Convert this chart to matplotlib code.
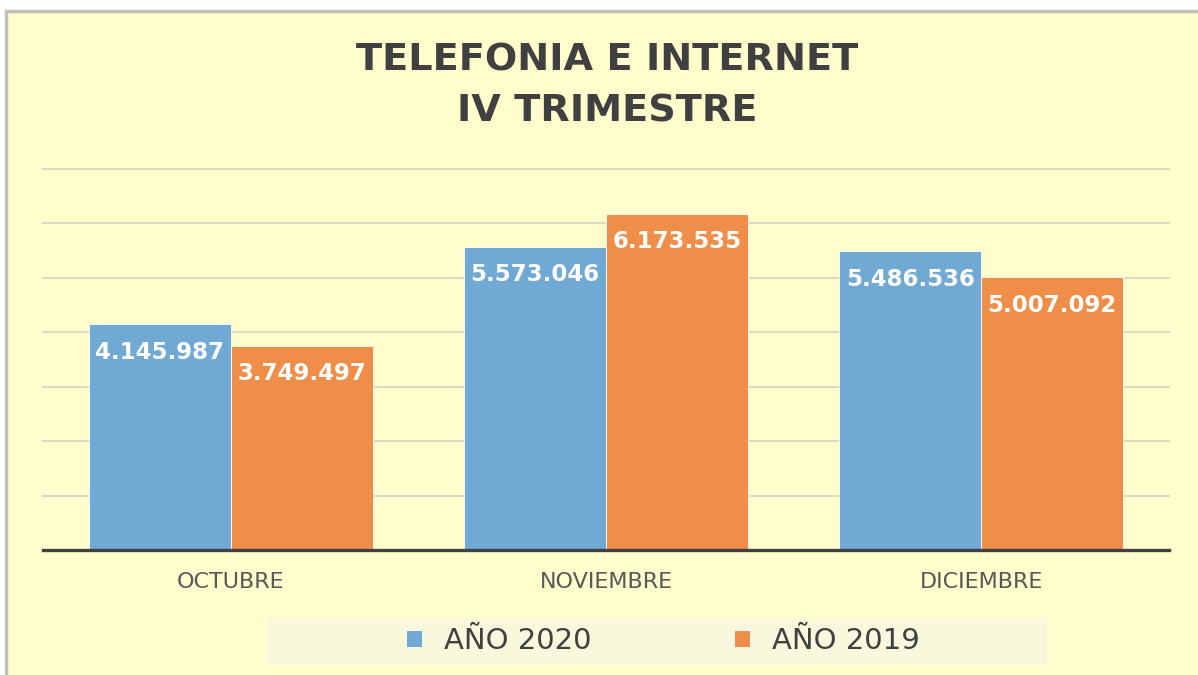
import matplotlib.pyplot as plt
from matplotlib.patches import Rectangle
import numpy as np

#data
MONTHS = ['OCTUBRE', 'NOVIEMBRE', 'DICIEMBRE']
SERIES_NAMES = ['AÑO 2020', 'AÑO 2019']
VALUES_2020 = [4145987, 5573046, 5486536]
VALUES_2019 = [3749497, 6173535, 5007092]
TITLE = 'TELEFONIA E INTERNET\nIV TRIMESTRE'

#colours
BG = '#FFFDCC'
BLUE = '#71A9D5'
ORANGE = '#EF8E48'
TEXT_DARK = '#404040'
TEXT_AXIS = '#595959'
W, H = 1198, 675


#format numbers with dots as thousands separator
def fmt(v):
    return f'{v:,}'.replace(',', '.')


fig = plt.figure(figsize=(W / 100, H / 100), dpi=100)
fig.patch.set_facecolor('white')

#yellow chart area with grey border
fig.patches.append(
    Rectangle((6 / W, -0.01), 1.01, 1 - 11 / H + 0.01, transform=fig.transFigure,
              facecolor=BG, edgecolor='#BFBFBF', linewidth=2.5, zorder=-2))

#legend background strip
fig.patches.append(
    Rectangle((267 / W, 1 - 665 / H), 780 / W, 47 / H, transform=fig.transFigure,
              facecolor='#FAF8DC', edgecolor='none', zorder=-1))

ax = fig.add_axes([43 / W, 1 - 550 / H, 1126 / W, 381 / H])
ax.set_facecolor('none')

x = np.arange(len(MONTHS))
width = 0.378
bars_a = ax.bar(x - width / 2, VALUES_2020, width, color=BLUE, edgecolor='white',
                linewidth=0.6, label=SERIES_NAMES[0], zorder=3)
bars_b = ax.bar(x + width / 2, VALUES_2019, width, color=ORANGE, edgecolor='white',
                linewidth=0.6, label=SERIES_NAMES[1], zorder=3)

for bars in (bars_a, bars_b):
    for b in bars:
        ax.annotate(fmt(int(b.get_height())),
                    (b.get_x() + b.get_width() / 2, b.get_height()),
                    xytext=(0, -28), textcoords='offset pixels',
                    ha='center', va='center', color='white',
                    fontsize=16.5, fontweight='bold', zorder=4)

ax.set_xlim(-0.5, 2.5)
ax.set_ylim(0, 7000000)
ax.set_yticks(np.arange(0, 7000001, 1000000))
ax.yaxis.grid(True, color='#D9D9C4', linewidth=1.4, zorder=0)
for gl in ax.get_ygridlines():
    gl.set_clip_on(False)
ax.set_yticklabels([])
ax.tick_params(axis='y', length=0)
ax.set_xticks(x)
ax.set_xticklabels(MONTHS, fontsize=16, color=TEXT_AXIS)
ax.tick_params(axis='x', length=0, pad=16)
for s in ('top', 'left', 'right'):
    ax.spines[s].set_visible(False)
ax.spines['bottom'].set_color(TEXT_DARK)
ax.spines['bottom'].set_linewidth(2.4)
ax.spines['bottom'].set_zorder(5)

fig.text(607.5 / W, 1 - 86 / H, TITLE, ha='center', va='center',
         fontsize=27.5, fontweight='bold', color=TEXT_DARK, linespacing=1.55)

fig.legend(handles=[bars_a, bars_b], labels=SERIES_NAMES, loc='center',
           bbox_to_anchor=(663 / W, 1 - 641 / H), ncol=2, frameon=False,
           fontsize=21, labelcolor=TEXT_DARK, handlelength=0.55, handleheight=0.55,
           handletextpad=0.75, columnspacing=4.9)

fig.savefig('out.png', dpi=100)
